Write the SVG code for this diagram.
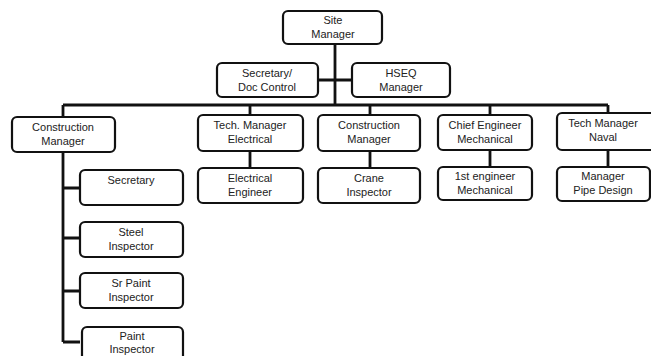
<svg xmlns="http://www.w3.org/2000/svg" width="651" height="356" viewBox="0 0 651 356">
<style>
.b{fill:#fff;stroke:#111;stroke-width:2.2}
.c{fill:none;stroke:#111;stroke-width:2.8}
text{font-family:"Liberation Sans",Arial,sans-serif;font-size:11px;fill:#222;text-anchor:middle}
</style>
<rect width="651" height="356" fill="#fff"/>
<g id="connectors">
<path class="c" d="M335 44V105M318 80H352M63 105H608M63 105V117M250 105V115M370 105V115M490 105V115M608 105V113"/>
<path class="c" d="M250 151V168M370 151V168M490 150V167M608 150V167"/>
<path class="c" d="M63 152V342M63 188H80M63 238H80M63 291H80M63 342H80"/>
</g>
<g id="site-manager"><rect class="b" x="283" y="11" width="99" height="33" rx="5"/><text x="333" y="24">Site</text><text x="333" y="38">Manager</text></g>
<g id="secretary-doc"><rect class="b" x="217" y="63" width="101" height="34" rx="5"/><text x="267" y="77">Secretary/</text><text x="267" y="91">Doc  Control</text></g>
<g id="hseq"><rect class="b" x="352" y="63" width="98" height="34" rx="5"/><text x="401" y="77">HSEQ</text><text x="401" y="91">Manager</text></g>
<g id="construction-manager-1"><rect class="b" x="12" y="117" width="103" height="35" rx="5"/><text x="63" y="131">Construction</text><text x="63" y="145">Manager</text></g>
<g id="tech-elec"><rect class="b" x="198" y="115" width="105" height="36" rx="5"/><text x="250" y="129">Tech. Manager</text><text x="250" y="143">Electrical</text></g>
<g id="construction-manager-2"><rect class="b" x="318" y="115" width="102" height="36" rx="5"/><text x="369" y="129">Construction</text><text x="369" y="143">Manager</text></g>
<g id="chief-eng"><rect class="b" x="438" y="115" width="94" height="35" rx="5"/><text x="485" y="129">Chief Engineer</text><text x="485" y="143">Mechanical</text></g>
<g id="tech-naval"><rect class="b" x="557" y="113" width="100" height="37" rx="5"/><text x="603" y="127">Tech  Manager</text><text x="603" y="141">Naval</text></g>
<g id="elec-eng"><rect class="b" x="198" y="168" width="105" height="35" rx="5"/><text x="250" y="182">Electrical</text><text x="250" y="196">Engineer</text></g>
<g id="crane"><rect class="b" x="318" y="168" width="102" height="35" rx="5"/><text x="369" y="182">Crane</text><text x="369" y="196">Inspector</text></g>
<g id="first-eng"><rect class="b" x="438" y="167" width="94" height="33" rx="5"/><text x="485" y="180">1st engineer</text><text x="485" y="194">Mechanical</text></g>
<g id="pipe-design"><rect class="b" x="557" y="167" width="93" height="34" rx="5"/><text x="603" y="180">Manager</text><text x="603" y="194">Pipe Design</text></g>
<g id="secretary"><rect class="b" x="80" y="170" width="103" height="35" rx="5"/><text x="131" y="184">Secretary</text></g>
<g id="steel"><rect class="b" x="80" y="222" width="103" height="35" rx="5"/><text x="131" y="236">Steel</text><text x="131" y="250">Inspector</text></g>
<g id="sr-paint"><rect class="b" x="80" y="273" width="103" height="35" rx="5"/><text x="131" y="287">Sr  Paint</text><text x="131" y="301">Inspector</text></g>
<g id="paint"><rect class="b" x="82" y="327" width="101" height="36" rx="5"/><text x="132" y="340">Paint</text><text x="132" y="353">Inspector</text></g>
</svg>
